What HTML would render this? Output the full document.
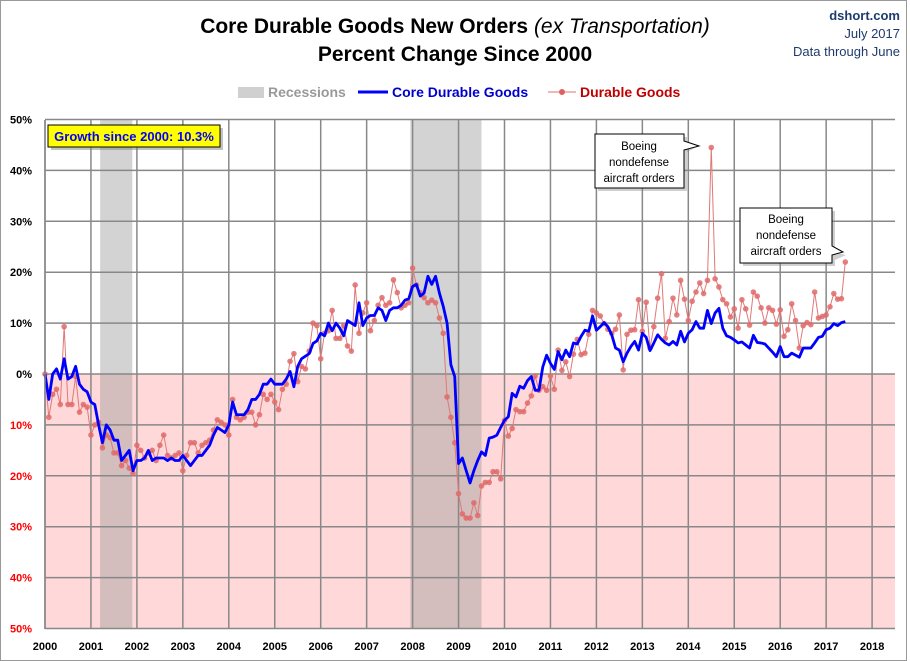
<!DOCTYPE html>
<html><head><meta charset="utf-8"><style>
body{margin:0;background:#fff;font-family:"Liberation Sans",sans-serif}
svg{display:block}
</style></head><body>
<svg id="chart" width="910" height="661">
<rect x="0.5" y="0.5" width="906" height="660" fill="#fff" stroke="#999"/>
<text x="455" y="33" text-anchor="middle" font-size="21" font-weight="bold">Core Durable Goods New Orders <tspan font-weight="normal" font-style="italic">(ex Transportation)</tspan></text>
<text x="455" y="61" text-anchor="middle" font-size="21" font-weight="bold">Percent Change Since 2000</text>
<text x="900" y="20" text-anchor="end" font-size="13" font-weight="bold" fill="#1f3a6e">dshort.com</text>
<text x="900" y="38" text-anchor="end" font-size="13" fill="#1f3a6e">July 2017</text>
<text x="900" y="56" text-anchor="end" font-size="13" fill="#1f3a6e">Data through June</text>
<g>
<rect x="238" y="87" width="26" height="11" fill="#d0d0d0"/>
<text x="268" y="97" font-size="14" font-weight="bold" fill="#999">Recessions</text>
<line x1="358" y1="92" x2="388" y2="92" stroke="#0000ff" stroke-width="3"/>
<text x="392" y="97" font-size="14" font-weight="bold" fill="#0000cc">Core Durable Goods</text>
<line x1="548" y1="92" x2="576" y2="92" stroke="#e07070" stroke-width="1"/>
<circle cx="562" cy="92" r="3" fill="#e06060"/>
<text x="580" y="97" font-size="14" font-weight="bold" fill="#c00000">Durable Goods</text>
</g>
<g id="plot"></g>
<g>
<rect x="51" y="128" width="172" height="22" fill="#888" opacity="0.5"/>
<rect x="48" y="125" width="172" height="22" fill="#ffff00" stroke="#000" stroke-width="1"/>
<text x="134" y="141" text-anchor="middle" font-size="13" font-weight="bold" fill="#0000ff">Growth since 2000:  10.3%</text>
</g>
<g>
<path d="M598,137 H687 V144 L699,146 L687,152 V191 H598 Z" fill="#888" opacity="0.4"/>
<path d="M595,134 H684 V141 L699,146 L684,150 V188 H595 Z" fill="#fff" stroke="#000"/>
<text x="639" y="150" text-anchor="middle" font-size="11.5">Boeing</text>
<text x="639" y="166" text-anchor="middle" font-size="11.5">nondefense</text>
<text x="639" y="182" text-anchor="middle" font-size="11.5">aircraft orders</text>
</g>
<g>
<path d="M743,211 H835 V252 L846,255 L835,260 V266 H743 Z" fill="#888" opacity="0.4"/>
<path d="M740,208 H832 V246 L843,252 L832,255 V263 H740 Z" fill="#fff" stroke="#000"/>
<text x="786" y="223" text-anchor="middle" font-size="11.5">Boeing</text>
<text x="786" y="239" text-anchor="middle" font-size="11.5">nondefense</text>
<text x="786" y="255" text-anchor="middle" font-size="11.5">aircraft orders</text>
</g>
</svg>
<script>
const yTicks = [50,40,30,20,10,0,-10,-20,-30,-40,-50];
const years = [2000,2001,2002,2003,2004,2005,2006,2007,2008,2009,2010,2011,2012,2013,2014,2015,2016,2017,2018];
const recessions = [[2001.2,2001.9],[2007.95,2009.5]];
const coreDurable = [
0,-5,0,1,-1,3,-1,-0.5,1.5,-2,-3,-3.5,
-5.5,-6,-10,-13.5,-10,-11,-13,-13,-17,-16,-15,-19,
-17,-17,-16.5,-15,-17,-16.5,-16.5,-16.5,-17,-16.5,-17,-17,
-16,-17,-18,-17,-16,-16,-15,-14,-12,-10.5,-11,-11.5,
-10,-5.5,-8,-8,-8,-7,-5,-5,-4,-2,-2,-1,
-2,-2,-2,-1,0.5,-2.5,1.5,3,3.5,4,6,6.5,
8,7.5,10,8.5,10,9,7.5,10.5,10,9.5,14,9.5,
11,11.5,11.5,13,12.5,10.5,12.5,13,13,13.5,14.5,14.8,
17.2,17.6,15.3,15.9,19.2,17.6,19.2,15.9,13.3,10,1.8,-0.5,
-17.6,-16.5,-19,-21.4,-19,-17,-15.3,-16,-12.6,-12.4,-12,-10.5,
-9.1,-8.4,-3.8,-4.5,-2.4,-2.8,-1.3,-0.5,-3.2,-3.2,1.4,3.7,
2.1,0.9,4.4,2.8,4.7,3.4,6.1,5.9,7.4,8.6,8.4,11.4,
8.6,9.3,10.1,9.3,7.7,5.1,4.7,2.4,4.1,5.4,6.4,4.7,
8.0,7.2,4.6,6.1,7.7,6.8,6.1,5.7,6.4,5.7,8.4,6.3,
8.0,8.7,10.3,9.0,9.0,12.5,9.9,12.0,12.9,9.0,7.5,7.2,
6.7,6.1,6.3,5.7,5.1,7.6,6.2,6.1,5.9,5.1,4.3,3.4,
5.4,3.4,3.4,4.1,3.7,3.3,5.1,5.1,5.1,6.1,7.2,7.4,
8.7,9.0,9.9,9.5,10.1,10.3];
const durableGoods = [
0,-8.5,-4,-3,-6,9.3,-6,-6,-0.5,-7.5,-6,-6.5,
-12,-10,-9.5,-14.5,-12,-12.5,-15.5,-15.5,-18,-17,-18.5,-19.5,
-14,-15,-16.5,-15.5,-15,-17,-14,-12,-16,-16.5,-16,-15.5,
-19,-16,-13.5,-13.5,-15.5,-14,-13.5,-13,-11,-9,-9.5,-10,
-12,-5,-8.5,-9,-8.5,-7.5,-7.5,-10,-8,-4,-5,-4,
-5.5,-7,-3,-2,2.5,4,-1.5,1.5,1,4.5,10,9.5,
3,8,8.5,12.5,7,7,9.5,5.5,4.5,17.5,8,12,
14,8.5,10.5,13.5,15,13.5,14,18.5,16,13,13.5,14,
20.8,17.5,16,15,14,14.5,14,11,8,-4.5,-8.5,-13.5,
-23.5,-27.5,-28.3,-28.3,-25.3,-27.8,-22,-21.3,-21.3,-19.2,-19.2,-20.6,
-9.1,-12.2,-10.7,-7.0,-7.4,-7.4,-5.7,-4.3,-0.4,-3.2,-2.5,-3.2,
-0.4,-3.0,4.7,0.7,2.4,-0.5,3.9,6.8,3.8,4.1,7.8,12.5,
12.0,11.4,9.9,8.8,8.0,8.8,11.6,0.8,7.8,8.6,8.7,14.6,
8.4,14.1,5.1,9.3,14.9,19.7,7.0,10.3,14.9,11.6,18.4,14.7,
10.5,14.3,16.1,17.9,15.8,18.4,44.5,18.7,17.1,14.6,13.8,11.2,
12.8,9.0,14.6,12.8,9.6,16.1,15.3,13.0,10.0,13.0,12.5,9.8,
12.6,7.4,8.7,13.8,10.5,5.1,9.5,10.1,9.7,16.1,11.0,11.3,
11.6,13.2,15.8,14.7,14.8,22.0];

const NS='http://www.w3.org/2000/svg';
const L=45,R=895,T=120,B=629;
const xYear=y=>L+(y-2000)*45.95;
const xIdx=i=>xYear(2000+i/12);
const yv=v=>374-v*5.09;
const plot=document.getElementById('plot');
function mk(tag,attrs,parent){const e=document.createElementNS(NS,tag);for(const k in attrs)e.setAttribute(k,attrs[k]);(parent||plot).appendChild(e);return e;}

const bg=mk('rect',{x:L,y:yv(0),width:R-L,height:B-yv(0),fill:'#ffd9d9'});


recessions.forEach(r=>{
  const e=mk('rect',{x:xYear(r[0]),y:T,width:xYear(r[1])-xYear(r[0]),height:B-T,fill:'rgba(150,150,150,0.42)'});
  
  
});
yTicks.forEach(t=>{
  const g=mk('line',{x1:L,x2:R,y1:yv(t),y2:yv(t),stroke:'#888','stroke-width':1.5});
  
  
  const lb=mk('text',{x:L-13,y:yv(t)+4,'text-anchor':'end','font-size':11,'font-weight':'bold',fill:t<0?'#ff0000':'#000'});
  lb.textContent=Math.abs(t)+'%';
  
  
});
years.forEach(y=>{
  const g=mk('line',{x1:xYear(y),x2:xYear(y),y1:T,y2:B,stroke:'#888','stroke-width':1.5});
  
  
  const lb=mk('text',{x:xYear(y),y:650,'text-anchor':'middle','font-size':11,'font-weight':'bold',fill:'#000'});
  lb.textContent=y;
  
  
});
const rl=mk('polyline',{points:durableGoods.map((v,i)=>xIdx(i)+','+yv(v)).join(' '),fill:'none',stroke:'#e07878','stroke-width':1});


durableGoods.forEach((v,i)=>{
  const c=mk('circle',{cx:xIdx(i),cy:yv(v),r:2.8,fill:'#e06a6a','fill-opacity':0.85});
  
  
});
const bl=mk('polyline',{points:coreDurable.map((v,i)=>xIdx(i)+','+yv(v)).join(' '),fill:'none',stroke:'#0000ff','stroke-width':2.8,'stroke-linejoin':'round'});


const ax=mk('line',{x1:L,x2:L,y1:T,y2:B,stroke:'#888','stroke-width':1.5});


</script>
</body></html>
